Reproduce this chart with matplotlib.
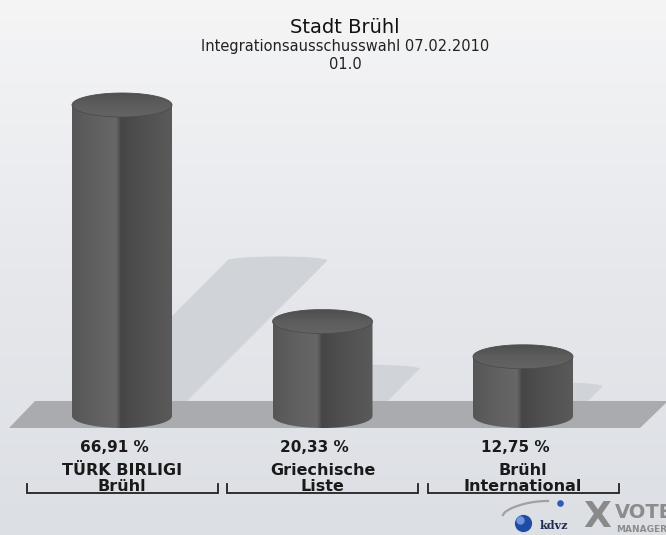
import numpy as np
import matplotlib
matplotlib.use("Agg")
import matplotlib.pyplot as plt
from matplotlib.path import Path
from matplotlib.patches import Polygon, PathPatch
from matplotlib.colors import LinearSegmentedColormap

# --------------------------------------------------
# Data
# --------------------------------------------------
title = "Stadt Brühl"
subtitle = "Integrationsausschusswahl 07.02.2010"
district = "01.0"

party_line1 = ["TÜRK BIRLIGI", "Griechische", "Brühl"]
party_line2 = ["Brühl", "Liste", "International"]
shares = [66.91, 20.33, 12.75]
share_labels = ["66,91 %", "20,33 %", "12,75 %"]

# --------------------------------------------------
# Layout (pixels of the 666x535 picture)
# --------------------------------------------------
W, H = 666, 535
BASE_PX = 416      # baseline of the bars, from top
UNIT_PX = 200.5    # pixels per category step
PCT_PX = 4.648     # pixels per percent
X0_PX = 122        # pixel x of the first category

fig = plt.figure(figsize=(W / 100, H / 100), dpi=100)
ax = fig.add_axes([0, 0, 1, 1])
xlim = (-X0_PX / UNIT_PX, (W - X0_PX) / UNIT_PX)
ylim = (-(H - BASE_PX) / PCT_PX, BASE_PX / PCT_PX)


def px(x, y):
    # picture pixel -> data coordinates
    return ((x - X0_PX) / UNIT_PX, (BASE_PX - y) / PCT_PX)


def py(y):
    return (BASE_PX - y) / PCT_PX


# background gradient
bg_cmap = LinearSegmentedColormap.from_list("bg", ["#f5f5f6", "#e6e8ec", "#dcdfe4"])
ax.imshow(np.linspace(0, 1, 256).reshape(-1, 1), extent=(*xlim, *ylim),
          aspect="auto", cmap=bg_cmap, origin="upper", zorder=0)

bar_w = 100 / UNIT_PX
half = bar_w / 2
ry = 12 / PCT_PX
t = np.linspace(0, np.pi, 60)

# --------------------------------------------------
# Shadows
# --------------------------------------------------
for i, v in enumerate(shares):
    rise = 0.5 * v
    dx = rise * PCT_PX / UNIT_PX
    arc_x = i + dx + half * np.cos(t)
    arc_y = rise + (4 / PCT_PX) * np.sin(t)
    pts = [(i - half, 0), (i + half, 0)] + list(zip(arc_x, arc_y))
    ax.add_patch(Polygon(pts, closed=True, facecolor="#d0d3d8", edgecolor="none", zorder=1))

# floor
floor = [px(9, 428), px(640, 428), px(668, 401), px(35, 401)]
ax.add_patch(Polygon(floor, closed=True, facecolor="#aaabae", edgecolor="none", zorder=2))

# --------------------------------------------------
# Cylinders
# --------------------------------------------------
body_cmap = LinearSegmentedColormap.from_list(
    "body",
    [(0, "#565656"), (0.2, "#5f5f5f"), (0.44, "#676767"), (0.49, "#464646"),
     (0.7, "#505050"), (1, "#5a5a5a")])
top_cmap = LinearSegmentedColormap.from_list("top", ["#4f4f4f", "#5d5d5d", "#646464"])

for i, v in enumerate(shares):
    x0, x1 = i - half, i + half
    # body outline: straight sides, rounded bottom
    bx = i - half * np.cos(t)
    by = -ry * np.sin(t)
    verts = [(x0, v)] + list(zip(bx, by)) + [(x1, v), (x0, v)]
    body_path = PathPatch(Path(verts), transform=ax.transData)
    im = ax.imshow(np.linspace(0, 1, 200).reshape(1, -1), extent=(x0, x1, -ry, v),
                   aspect="auto", cmap=body_cmap, zorder=3)
    im.set_clip_path(body_path)

    tt = np.linspace(0, 2 * np.pi, 120)
    ell = list(zip(i + half * np.cos(tt), v + ry * np.sin(tt)))
    top_path = PathPatch(Path(ell), transform=ax.transData)
    im2 = ax.imshow(np.linspace(0, 1, 100).reshape(-1, 1), extent=(x0, x1, v - ry, v + ry),
                    aspect="auto", cmap=top_cmap, origin="upper", zorder=4)
    im2.set_clip_path(top_path)
    ax.add_patch(Polygon(ell, closed=True, facecolor="none", edgecolor="#4c4c4c",
                         lw=0.6, zorder=5))

# --------------------------------------------------
# Labels and brackets
# --------------------------------------------------
hb = 95.5 / UNIT_PX
for i in range(len(shares)):
    ax.text(i - 8 / UNIT_PX, py(452), share_labels[i], ha="center", va="baseline",
            fontsize=11, fontweight="bold", color="#1a1a1a", zorder=6)
    ax.text(i, py(475), party_line1[i], ha="center", va="baseline",
            fontsize=11.5, fontweight="bold", color="#1a1a1a", zorder=6)
    ax.text(i, py(491), party_line2[i], ha="center", va="baseline",
            fontsize=11.5, fontweight="bold", color="#1a1a1a", zorder=6)
    ax.plot([i - hb, i - hb, i + hb, i + hb], [py(484), py(493), py(493), py(484)],
            color="#222222", lw=1.3, zorder=6, solid_joinstyle="miter")

# titles
fig.text(345 / W, 1 - 33 / H, title, ha="center", va="baseline", fontsize=14, color="#111111")
fig.text(345 / W, 1 - 51 / H, subtitle, ha="center", va="baseline", fontsize=10.5, color="#222222")
fig.text(345 / W, 1 - 69 / H, district, ha="center", va="baseline", fontsize=10.5, color="#222222")

# --------------------------------------------------
# Logo (bottom right)
# --------------------------------------------------
sx = np.linspace(503, 548, 30)
sy = 515 - 14 * np.sin(np.linspace(0, np.pi / 2, 30)) ** 0.6
ax.plot(*zip(*[px(a, b) for a, b in zip(sx, sy)]), color="#a0a0a0", lw=1.6, zorder=6)
ax.scatter(*px(523, 523), s=130, color="#1f4da6", zorder=7)
ax.scatter(*px(520, 520), s=25, color="#6f95dd", zorder=8)
ax.scatter(*px(560, 503), s=14, color="#2a5cc0", zorder=7)
ax.text(*px(540, 529), "kdvz", fontsize=8, fontweight="bold", family="DejaVu Serif",
        color="#1d2a50", va="baseline", zorder=7)
ax.text(*px(597, 517), "X", fontsize=26, fontweight="bold", color="#8a8a8a",
        ha="center", va="center", zorder=7)
ax.text(*px(615, 518), "VOTE", fontsize=14, fontweight="bold", color="#8c8c8c",
        va="baseline", zorder=7)
ax.text(*px(616, 532), "MANAGER", fontsize=6.5, fontweight="bold", color="#8c8c8c",
        va="baseline", zorder=7)

ax.set_xlim(*xlim)
ax.set_ylim(*ylim)
ax.axis("off")
fig.savefig("out.png", dpi=100)
